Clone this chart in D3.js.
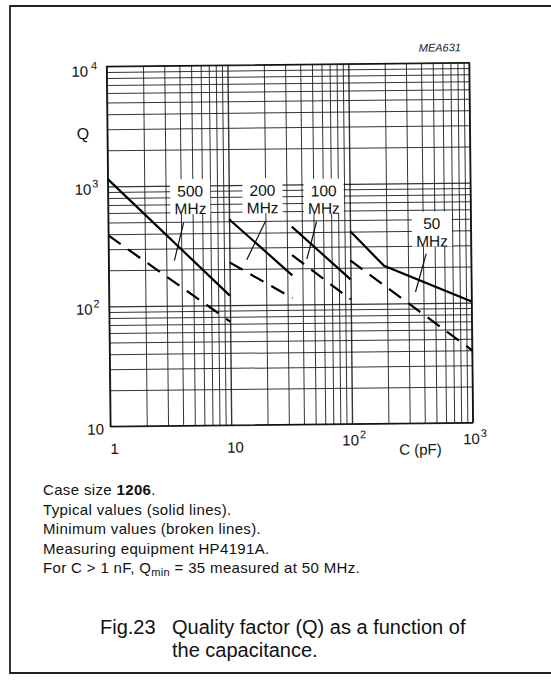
<!DOCTYPE html>
<html>
<head>
<meta charset="utf-8">
<script src="https://cdn.jsdelivr.net/npm/d3@7"></script>
<style>
  body { margin: 0; background: #fff; }
  svg { display: block; font-family: "Liberation Sans", Arial, sans-serif; }
</style>
</head>
<body>
<div id="chart"></div>
<script>
// Data
//-------------------------------------------------------
var freqLabels = ["500", "200", "100", "50"];

// capacitance (pF) break points per frequency
var cap500 = [1, 10];
var cap200 = [10, 33];
var cap100 = [33, 100];
var cap50 = [100, 190, 1000];
var cap50Min = [100, 1000];

// typical Q (solid lines)
var qTyp500 = [1150, 120];
var qTyp200 = [520, 175];
var qTyp100 = [445, 160];
var qTyp50 = [404, 206, 102];

// minimum Q (broken lines)
var qMin500 = [390, 73];
var qMin200 = [227, 113];
var qMin100 = [258, 109];
var qMin50 = [230, 40];

// label anchors [C, Q] and leader lines [[C, Q], [C, Q]]
var labelPos = [[4.8, 900], [19, 900], [61, 880], [476, 460]];
var leaders = [
    [[4.2, 490], [3.5, 238]],
    [[20, 497], [13.9, 238]],
    [[53, 490], [43.7, 238]],
    [[425, 258], [344, 124]]
];

var xTickLabels = [[1, "1", ""], [10, "10", ""], [100, "10", "2"], [1000, "10", "3"]];
var yTickLabels = [[10000, "10", "4"], [1000, "10", "3"], [100, "10", "2"], [10, "10", ""]];

var notes = [
    ["Case size ", "1206", "."],
    ["Typical values (solid lines).", "", ""],
    ["Minimum values (broken lines).", "", ""],
    ["Measuring equipment HP4191A.", "", ""]
];

// Set up SVG
//-------------------------------------------------------
var svgWidth = 551;
var svgHeight = 689;

var plot = { left: 108.5, right: 471, top: 64.5, bottom: 424.5 };

var svg = d3.select("#chart")
    .append("svg")
    .attr("width", svgWidth)
    .attr("height", svgHeight);

// page frame (right side runs off the scan)
svg.append("path")
    .attr("d", "M 600 6 L 10 6 L 10 673 L 600 673")
    .attr("fill", "none")
    .attr("stroke", "#222")
    .attr("stroke-width", 1.8);

// the scanned figure sits slightly skewed
var chartGroup = svg.append("g")
    .attr("transform", "rotate(-0.6, 290, 245)");

var x = d3.scaleLog().domain([1, 1000]).range([plot.left, plot.right]);
var y = d3.scaleLog().domain([10, 10000]).range([plot.bottom, plot.top]);

// Grid
//-------------------------------------------------------
var gridX = chartGroup.append("g")
    .attr("transform", `translate(0, ${plot.bottom})`)
    .call(d3.axisBottom(x).tickSize(-(plot.bottom - plot.top)).tickFormat(""));

var gridY = chartGroup.append("g")
    .attr("transform", `translate(${plot.left}, 0)`)
    .call(d3.axisLeft(y).tickSize(-(plot.right - plot.left)).tickFormat(""));

[gridX, gridY].forEach(function(g) {
    g.select(".domain").remove();
    g.selectAll(".tick line")
        .attr("stroke", "#111")
        .attr("stroke-width", d => (Math.abs(Math.log10(d) % 1) < 1e-6 ? 1.4 : 1))
        .attr("stroke-opacity", 0.85);
});

chartGroup.append("rect")
    .attr("x", plot.left)
    .attr("y", plot.top)
    .attr("width", plot.right - plot.left)
    .attr("height", plot.bottom - plot.top)
    .attr("fill", "none")
    .attr("stroke", "#111")
    .attr("stroke-width", 1.4);

// Labels with white backing (grid is broken behind them)
//-------------------------------------------------------
var labelGroup = chartGroup.append("g")
    .attr("font-size", "15.5px")
    .attr("text-anchor", "middle")
    .attr("fill", "#111");

freqLabels.forEach(function(f, i) {
    var cx = x(labelPos[i][0]);
    var cy = y(labelPos[i][1]);
    labelGroup.append("rect")
        .attr("x", cx - 20)
        .attr("y", cy - 12)
        .attr("width", 40)
        .attr("height", 35)
        .attr("fill", "#fff");
    labelGroup.append("text").attr("x", cx).attr("y", cy + 5.5).text(f);
    labelGroup.append("text").attr("x", cx).attr("y", cy + 23).text("MHz");
});

// Leader lines
chartGroup.append("g").selectAll("line")
    .data(leaders)
    .enter()
    .append("line")
    .attr("x1", d => x(d[0][0]))
    .attr("y1", d => y(d[0][1]))
    .attr("x2", d => x(d[1][0]))
    .attr("y2", d => y(d[1][1]))
    .attr("stroke", "#111")
    .attr("stroke-width", 1.2);

// Curves
//-------------------------------------------------------
var line = d3.line()
    .x(d => x(d[0]))
    .y(d => y(d[1]));

var typical = [
    d3.zip(cap500, qTyp500),
    d3.zip(cap200, qTyp200),
    d3.zip(cap100, qTyp100),
    d3.zip(cap50, qTyp50)
];
var minimum = [
    d3.zip(cap500, qMin500),
    d3.zip(cap200, qMin200),
    d3.zip(cap100, qMin100),
    d3.zip(cap50Min, qMin50)
];

chartGroup.append("g").selectAll("path")
    .data(typical)
    .enter()
    .append("path")
    .attr("d", line)
    .attr("fill", "none")
    .attr("stroke", "#000")
    .attr("stroke-width", 2.2);

chartGroup.append("g").selectAll("path")
    .data(minimum)
    .enter()
    .append("path")
    .attr("d", line)
    .attr("fill", "none")
    .attr("stroke", "#000")
    .attr("stroke-width", 2.2)
    .attr("stroke-dasharray", "15,9");

// Axis labels
//-------------------------------------------------------
var axisText = chartGroup.append("g")
    .attr("font-size", "15px")
    .attr("fill", "#111");

yTickLabels.forEach(function(t) {
    var txt = axisText.append("text")
        .attr("text-anchor", "end")
        .attr("x", t[2] ? 99 : 102)
        .attr("y", y(t[0]) + (t[0] === 10000 ? 10 : 8))
        .text(t[1]);
    if (t[2]) {
        txt.append("tspan")
            .attr("dx", t[2] === "4" ? 3 : 1)
            .attr("dy", -7)
            .attr("font-size", "11px")
            .text(t[2]);
    }
});

axisText.append("text")
    .attr("x", 84)
    .attr("y", 137)
    .attr("text-anchor", "middle")
    .attr("font-size", "16px")
    .text("Q");

xTickLabels.forEach(function(t) {
    var txt = axisText.append("text")
        .attr("text-anchor", "middle")
        .attr("x", x(t[0]) + (t[2] ? 2 : 4))
        .attr("y", t[2] ? 446 : 452)
        .text(t[1]);
    if (t[2]) {
        txt.append("tspan")
            .attr("dx", 1)
            .attr("dy", -7)
            .attr("font-size", "11px")
            .text(t[2]);
    }
});

axisText.append("text")
    .attr("x", 397)
    .attr("y", 456)
    .text("C  (pF)");

chartGroup.append("text")
    .attr("x", 463)
    .attr("y", 53)
    .attr("text-anchor", "end")
    .attr("font-size", "11px")
    .attr("font-style", "italic")
    .attr("fill", "#222")
    .text("MEA631");

// Notes and caption
//-------------------------------------------------------
var noteGroup = svg.append("g")
    .attr("font-size", "15px")
    .attr("letter-spacing", "0.35px")
    .attr("fill", "#111");

notes.forEach(function(n, i) {
    var t = noteGroup.append("text")
        .attr("x", 43)
        .attr("y", 495 + i * 19.5)
        .text(n[0]);
    if (n[1]) {
        t.append("tspan").attr("font-weight", "bold").text(n[1]);
        t.append("tspan").text(n[2]);
    }
});

var lastNote = noteGroup.append("text")
    .attr("x", 43)
    .attr("y", 495 + 4 * 19.5)
    .text("For C > 1 nF, Q");
lastNote.append("tspan").attr("font-size", "11px").attr("dy", 3).text("min");
lastNote.append("tspan").attr("dy", -3).text(" = 35 measured at 50 MHz.");

var caption = svg.append("g")
    .attr("font-size", "20px")
    .attr("fill", "#111");

caption.append("text").attr("x", 100).attr("y", 634).text("Fig.23");
caption.append("text").attr("x", 172).attr("y", 634).text("Quality factor (Q) as a function of");
caption.append("text").attr("x", 172).attr("y", 657).text("the capacitance.");
</script>
</body>
</html>
